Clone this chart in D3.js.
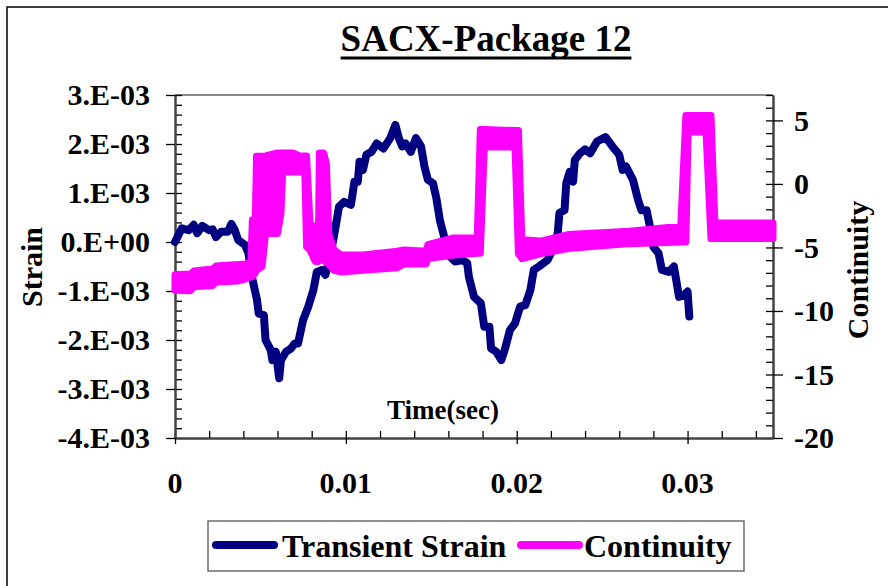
<!DOCTYPE html>
<html>
<head>
<meta charset="utf-8">
<script src="https://cdn.jsdelivr.net/npm/d3@7/dist/d3.min.js"></script>
<style>
  body { margin: 0; background: #fff; }
  svg { display: block; }
  text { font-family: "Liberation Serif", "Times New Roman", serif; font-weight: bold; fill: #000; }
</style>
</head>
<body>
<svg id="chart" width="888" height="586"></svg>
<script>
// ---------- data

const STRAIN_TIME = [
  0, 0.0004, 0.0008, 0.0011, 0.0013, 0.0016, 0.0020, 0.0022, 0.0024, 0.0027,
  0.0031, 0.0033, 0.0035, 0.0037, 0.0041, 0.0043, 0.0045, 0.0048, 0.0049, 0.0052,
  0.0053, 0.0056, 0.0057, 0.0059, 0.0061, 0.0062, 0.0065, 0.0068, 0.0070, 0.0072,
  0.0075, 0.0078, 0.0081, 0.0083, 0.0086, 0.0088, 0.0090, 0.0093, 0.0096, 0.0099,
  0.0103, 0.0105, 0.0107, 0.0108, 0.0110, 0.0112, 0.0115, 0.0118, 0.0122, 0.0126,
  0.0129, 0.0131, 0.0133, 0.0135, 0.0138, 0.0141, 0.0144, 0.0146, 0.0148, 0.0151,
  0.0153, 0.0155, 0.0158, 0.0161, 0.0164, 0.0168, 0.0171, 0.0172, 0.0175, 0.0179,
  0.0181, 0.0184, 0.0185, 0.0188, 0.0191, 0.0193, 0.0196, 0.0199, 0.0202, 0.0205,
  0.0208, 0.0210, 0.0213, 0.0218, 0.0221, 0.0224, 0.0225, 0.0228, 0.0229, 0.0231,
  0.0233, 0.0234, 0.0237, 0.0240, 0.0243, 0.0247, 0.0252, 0.0256, 0.0260, 0.0262,
  0.0264, 0.0268, 0.0271, 0.0273, 0.0276, 0.0278, 0.0280, 0.0283, 0.0285, 0.0289,
  0.0292, 0.0295, 0.0298, 0.0300, 0.0301
];
// strain, in units of 1E-03
const STRAIN_VALUE = [
  0.00, 0.28, 0.24, 0.35, 0.18, 0.33, 0.24, 0.26, 0.10, 0.21,
  0.21, 0.37, 0.24, 0.04, -0.06, -0.23, -0.71, -1.18, -1.46, -1.49,
  -2.00, -2.20, -2.41, -2.24, -2.78, -2.41, -2.24, -2.17, -2.07, -2.07,
  -1.59, -1.32, -0.98, -0.61, -0.57, -0.67, -0.43, 0.11, 0.72, 0.82,
  0.76, 1.23, 1.23, 1.64, 1.47, 1.78, 1.84, 2.01, 1.91, 2.12,
  2.39, 2.12, 1.95, 2.01, 1.84, 2.12, 1.95, 1.54, 1.27, 1.20,
  0.89, 0.45, 0.04, -0.30, -0.40, -0.37, -0.43, -0.71, -1.12, -1.25,
  -1.73, -1.73, -2.17, -2.24, -2.41, -2.20, -1.80, -1.66, -1.32, -1.29,
  -0.98, -0.57, -0.50, -0.37, -0.16, 0.18, 0.59, 0.65, 1.20, 1.43,
  1.23, 1.67, 1.81, 1.89, 1.81, 2.05, 2.14, 1.95, 1.78, 1.47,
  1.54, 1.27, 0.86, 0.65, 0.65, 0.31, -0.10, -0.23, -0.57, -0.61,
  -0.50, -1.12, -1.08, -1.01, -1.52
];

// continuity is a noisy signal: kept as the low / high edge of its band
const CONT_TIME = [
  0, 0.0009, 0.0011, 0.0022, 0.0024, 0.0037, 0.0041, 0.00444, 0.00453, 0.0047,
  0.00477, 0.0051, 0.0053, 0.0060, 0.0062, 0.0063, 0.0069, 0.0073, 0.0076, 0.0077,
  0.0079, 0.0082, 0.0084, 0.00845, 0.0087, 0.00886, 0.0090, 0.0093, 0.0097, 0.0110,
  0.0130, 0.0134, 0.0147, 0.0148, 0.0163, 0.01769, 0.01787, 0.0181, 0.0199, 0.0201,
  0.0203, 0.0214, 0.0230, 0.0266, 0.0296, 0.0299, 0.03003, 0.03108, 0.03137, 0.0316,
  0.0350
];
const CONT_LOW = [
  -8.37, -8.4, -8.1, -8.0, -7.72, -7.64, -7.5, -7.3, -7.3, -7.0,
  -6.8, -6.5, -3.9, -3.9, -2.34, 0.94, 0.94, 0.94, 0.94, -4.96,
  -5.2, -6.1, -6.1, -6.0, -6.0, -6.2, -6.3, -6.8, -6.93, -6.8,
  -6.6, -6.3, -6.3, -5.88, -5.6, -5.45, -5.45, 2.91, 2.91, -5.49,
  -5.88, -5.5, -5.09, -4.7, -4.57, -4.57, 4.09, 4.09, -4.3, -4.3,
  -4.3
];
const CONT_HIGH = [
  -7.14, -7.1, -6.85, -6.7, -6.46, -6.35, -6.3, -6.2, -2.81, -2.8,
  2.18, 2.18, 2.2, 2.44, 2.44, 2.44, 2.44, 2.2, 2.2, 2.2,
  -3.07, -3.5, -3.6, 2.44, 2.44, 1.6, -3.9, -5.17, -5.57, -5.6,
  -5.3, -5.2, -5.3, -4.78, -4.25, -4.25, 4.28, 4.28, 4.2, 4.2,
  -4.39, -4.5, -3.99, -3.72, -3.33, 5.38, 5.38, 5.38, 5.38, -3.07,
  -3.07
];

const TIME_TICKS = [0, 0.01, 0.02, 0.03];
const TIME_TICK_LABELS = ["0", "0.01", "0.02", "0.03"];
const STRAIN_TICKS = [0.003, 0.002, 0.001, 0, -0.001, -0.002, -0.003, -0.004];
const STRAIN_TICK_LABELS = ["3.E-03", "2.E-03", "1.E-03", "0.E+00", "-1.E-03", "-2.E-03", "-3.E-03", "-4.E-03"];
const CONT_TICKS = [5, 0, -5, -10, -15, -20];

const TITLE = "SACX-Package 12";
const SERIES_NAMES = ["Transient Strain", "Continuity"];

// ---------- look

const NAVY = "#000080";
const MAGENTA = "#FF00FF";
const LINE_W = 8;
const TICK_FONT = 30;

const PLOT_L = 175;
const PLOT_R = 773;
const PLOT_T = 95;
const PLOT_B = 438;

// ----------

const svg = d3.select("#chart");

// outer chart frame (its right and bottom edges fall outside the picture)
svg.append("rect")
  .attr("x", 7).attr("y", 7)
  .attr("width", 900).attr("height", 620)
  .attr("fill", "none").attr("stroke", "#000").attr("stroke-width", 1.5);

const x = d3.scaleLinear().domain([0, 0.035]).range([PLOT_L, PLOT_R]);
const yS = d3.scaleLinear().domain([-0.004, 0.003]).range([PLOT_B, PLOT_T]);
const yC = d3.scaleLinear().domain([-20, 7]).range([PLOT_B, PLOT_T]);

// plot frame (top edge is light grey)
svg.append("line")
  .attr("x1", PLOT_L).attr("x2", PLOT_R).attr("y1", PLOT_T).attr("y2", PLOT_T)
  .attr("stroke", "#888").attr("stroke-width", 2);

function styleAxis(g) {
  g.select(".domain").attr("stroke", "#444").attr("stroke-width", 2);
  g.selectAll(".tick line").attr("stroke", "#000").attr("stroke-width", 1.3);
  g.selectAll("text").remove();
}

// minor ticks (inside the plot)
svg.append("g")
  .attr("transform", "translate(" + PLOT_L + ",0)")
  .call(d3.axisRight(yS).tickValues(d3.range(-0.004, 0.00301, 0.0002)).tickSize(7).tickSizeOuter(0))
  .call(styleAxis);
svg.append("g")
  .attr("transform", "translate(" + PLOT_R + ",0)")
  .call(d3.axisLeft(yC).tickValues(d3.range(-20, 7.01, 1)).tickSize(7).tickSizeOuter(0))
  .call(styleAxis);
svg.append("g")
  .attr("transform", "translate(0," + PLOT_B + ")")
  .call(d3.axisTop(x).tickValues(d3.range(0, 0.0341, 0.002)).tickSize(7).tickSizeOuter(0))
  .call(styleAxis);

// major ticks (outside)
svg.append("g")
  .attr("transform", "translate(" + PLOT_L + ",0)")
  .call(d3.axisLeft(yS).tickValues(STRAIN_TICKS).tickSize(9).tickSizeOuter(0))
  .call(styleAxis);
svg.append("g")
  .attr("transform", "translate(" + PLOT_R + ",0)")
  .call(d3.axisRight(yC).tickValues(CONT_TICKS).tickSize(10).tickSizeOuter(0))
  .call(styleAxis);
svg.append("g")
  .attr("transform", "translate(0," + PLOT_B + ")")
  .call(d3.axisBottom(x).tickValues(TIME_TICKS).tickSize(6).tickSizeOuter(0))
  .call(styleAxis);

// tick labels
svg.append("g").selectAll("text")
  .data(STRAIN_TICKS)
  .join("text")
  .attr("x", 150)
  .attr("y", d => yS(d))
  .attr("dy", "0.34em")
  .attr("text-anchor", "end")
  .attr("font-size", TICK_FONT)
  .text((d, i) => STRAIN_TICK_LABELS[i]);

svg.append("g").selectAll("text")
  .data(CONT_TICKS)
  .join("text")
  .attr("x", 794)
  .attr("y", d => yC(d))
  .attr("dy", "0.34em")
  .attr("font-size", TICK_FONT)
  .text(d => String(d));

svg.append("g").selectAll("text")
  .data(TIME_TICKS)
  .join("text")
  .attr("x", d => x(d))
  .attr("y", 493)
  .attr("text-anchor", "middle")
  .attr("font-size", TICK_FONT)
  .text((d, i) => TIME_TICK_LABELS[i]);

// axis titles
svg.append("text")
  .attr("transform", "translate(42,267) rotate(-90)")
  .attr("text-anchor", "middle")
  .attr("font-size", 30)
  .text("Strain");

svg.append("text")
  .attr("transform", "translate(868,270) rotate(-90)")
  .attr("text-anchor", "middle")
  .attr("font-size", 30)
  .text("Continuity");

// ---------- series (continuity sits on the secondary axis and is drawn last)

const contRows = CONT_TIME.map((t, i) => ({ t: t, lo: CONT_LOW[i], hi: CONT_HIGH[i] }));
const strainRows = STRAIN_TIME.map((t, i) => ({ t: t, v: STRAIN_VALUE[i] * 1e-3 }));

svg.append("path")
  .datum(strainRows)
  .attr("fill", "none")
  .attr("stroke", NAVY)
  .attr("stroke-width", LINE_W)
  .attr("stroke-linejoin", "round")
  .attr("stroke-linecap", "round")
  .attr("d", d3.line().x(d => x(d.t)).y(d => yS(d.v)));

svg.append("path")
  .datum(contRows)
  .attr("fill", MAGENTA)
  .attr("stroke", MAGENTA)
  .attr("stroke-width", 7)
  .attr("stroke-linejoin", "round")
  .attr("d", d3.area().x(d => x(d.t)).y0(d => yC(d.lo)).y1(d => yC(d.hi)));

svg.append("text")
  .attr("x", 443).attr("y", 419)
  .attr("text-anchor", "middle")
  .attr("font-size", 27)
  .text("Time(sec)");

// title
const title = svg.append("text")
  .attr("x", 486).attr("y", 51)
  .attr("text-anchor", "middle")
  .attr("font-size", 37)
  .text(TITLE);
const tb = title.node().getBBox();
svg.append("line")
  .attr("x1", tb.x).attr("x2", tb.x + tb.width)
  .attr("y1", 58).attr("y2", 58)
  .attr("stroke", "#000").attr("stroke-width", 3);

// ---------- legend

const legend = svg.append("g");
legend.append("rect")
  .attr("x", 208).attr("y", 521)
  .attr("width", 536).attr("height", 50)
  .attr("fill", "#fff").attr("stroke", "#555").attr("stroke-width", 1.3);

const legendItems = [
  { name: SERIES_NAMES[0], color: NAVY, x0: 216, tx: 282 },
  { name: SERIES_NAMES[1], color: MAGENTA, x0: 521, tx: 584 }
];
legendItems.forEach(function (item) {
  legend.append("line")
    .attr("x1", item.x0).attr("x2", item.x0 + 58)
    .attr("y1", 545).attr("y2", 545)
    .attr("stroke", item.color).attr("stroke-width", LINE_W)
    .attr("stroke-linecap", "round");
  legend.append("text")
    .attr("x", item.tx).attr("y", 557)
    .attr("font-size", 32)
    .text(item.name);
});
</script>
</body>
</html>
